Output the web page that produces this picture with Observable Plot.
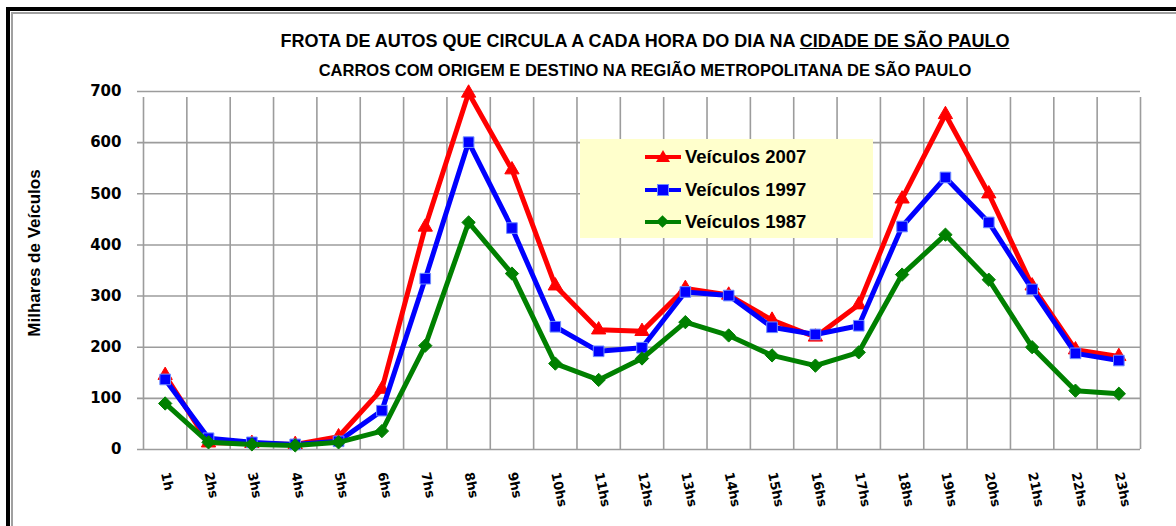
<!DOCTYPE html>
<html><head><meta charset="utf-8">
<script src="https://cdn.jsdelivr.net/npm/d3@7"></script>
<script src="https://cdn.jsdelivr.net/npm/@observablehq/plot@0.6"></script>
<style>
body{margin:0;background:#fff;}
#wrap{position:relative;width:1176px;height:526px;overflow:hidden;background:#fff;}
#frame{position:absolute;left:6px;top:7px;width:1200px;height:600px;border-top:4px solid #000;border-left:4px solid #000;}
#frame2{position:absolute;left:11px;top:12px;width:1200px;height:600px;border-top:2px solid #a0a0a0;border-left:2px solid #a0a0a0;}
.title{position:absolute;left:0;width:1290px;text-align:center;font-family:"Liberation Sans",Arial,sans-serif;font-weight:bold;color:#000;white-space:nowrap;}
#t1{top:32px;font-size:18px;line-height:18px;}
#t2{top:62px;font-size:16.5px;line-height:16.5px;}
#ylab{position:absolute;left:-115px;top:243px;width:300px;height:20px;line-height:20px;text-align:center;transform:rotate(-90deg);font-family:"Liberation Sans",Arial,sans-serif;font-weight:bold;font-size:17px;color:#000;}
#plot{position:absolute;left:0;top:80px;}
#legend{position:absolute;left:580px;top:139px;width:293px;height:99px;background:#FFFFCC;}
.row{position:absolute;left:0;width:293px;height:24px;}
.ln{position:absolute;left:65px;top:10px;width:36px;height:4px;}
.mk{position:absolute;}
.lt{position:absolute;left:105px;top:0;line-height:24px;font-family:"Liberation Sans",Arial,sans-serif;font-weight:bold;font-size:18.5px;color:#000;white-space:nowrap;}
</style></head>
<body>
<div id="wrap">
  <div id="frame"></div><div id="frame2"></div>
  <div class="title" id="t1">FROTA DE AUTOS QUE CIRCULA A CADA HORA DO DIA NA <span style="text-decoration:underline">CIDADE DE SÃO PAULO</span></div>
  <div class="title" id="t2">CARROS COM ORIGEM E DESTINO NA REGIÃO METROPOLITANA DE SÃO PAULO</div>
  <div id="ylab">Milhares de Veículos</div>
  <div id="plot"></div>
  <div id="legend"></div>
</div>
<script>
const hourLabels = ["1h","2hs","3hs","4hs","5hs","6hs","7hs","8hs","9hs","10hs","11hs","12hs","13hs","14hs","15hs","16hs","17hs","18hs","19hs","20hs","21hs","22hs","23hs"];
const v2007 = [145, 13, 12, 10, 25, 118, 435, 697, 547, 320, 234, 231, 315, 302, 253, 220, 283, 490, 655, 500, 320, 195, 182];
const v1997 = [137, 22, 14, 10, 16, 76, 334, 601, 433, 240, 192, 199, 308, 301, 239, 225, 242, 436, 532, 444, 313, 188, 174];
const v1987 = [90, 14, 10, 8, 14, 36, 203, 444, 344, 168, 136, 178, 249, 223, 184, 164, 190, 342, 420, 332, 200, 115, 109];
const yTicks = [0, 100, 200, 300, 400, 500, 600, 700];
const seriesNames = ["Veículos 2007", "Veículos 1997", "Veículos 1987"];

const hourIdx = hourLabels.map((_, i) => i + 1);
const boundaries = [...hourIdx.map(h => h - 0.5), hourIdx.length + 0.5];
const toRows = vals => vals.map((v, i) => ({h: hourIdx[i], v}));
const series = [
  {name: seriesNames[0], data: toRows(v2007), color: "#FF0000", symbol: "triangle", r: 5.3, outline: "#FF0000"},
  {name: seriesNames[1], data: toRows(v1997), color: "#0000FF", symbol: "square", r: 6, outline: "#6f8cff"},
  {name: seriesNames[2], data: toRows(v1987), color: "#008000", symbol: "diamond2", r: 6, outline: "#008000"}
];

const marks = [
  Plot.ruleY(yTicks, {stroke: "#9c9c9c", strokeWidth: 1.6, insetLeft: -6}),
  Plot.ruleX(boundaries, {y1: 0, y2: 700, stroke: "#9c9c9c", strokeWidth: 1.6, insetBottom: -6}),
  Plot.axisY({ticks: yTicks, label: null, tickSize: 0, tickPadding: 22, fontSize: 15, fontWeight: "bold", fontFamily: "DejaVu Sans"}),
  Plot.axisX({ticks: hourIdx, label: null, tickFormat: h => hourLabels[h - 1], tickSize: 0, tickPadding: 23, tickRotate: 78, fontSize: 13, fontWeight: "bold", fontFamily: "DejaVu Sans"})
];
for (const s of series) {
  marks.push(Plot.line(s.data, {x: "h", y: "v", stroke: s.color, strokeWidth: 5, strokeLinejoin: "round"}));
  marks.push(Plot.dot(s.data, {x: "h", y: "v", symbol: s.symbol, r: s.r, fill: s.color, stroke: s.outline, strokeWidth: 1}));
}

const chart = Plot.plot({
  width: 1176, height: 446,
  marginTop: 11, marginBottom: 77, marginLeft: 143, marginRight: 36,
  style: {background: "transparent", color: "#000", overflow: "visible"},
  x: {domain: [0.5, hourIdx.length + 0.5], axis: null},
  y: {domain: [0, 700], axis: null},
  marks
});
document.getElementById("plot").appendChild(chart);

// legend
const legend = document.getElementById("legend");
series.forEach((s, i) => {
  const row = document.createElement("div");
  row.className = "row";
  row.style.top = (6 + i * 32.5) + "px";
  const ln = document.createElement("span");
  ln.className = "ln"; ln.style.background = s.color;
  row.appendChild(ln);
  const mk = document.createElement("span");
  mk.className = "mk";
  if (s.symbol === "triangle") {
    Object.assign(mk.style, {left: "76px", top: "5px", width: "14px", height: "12px", background: s.color, clipPath: "polygon(50% 0, 100% 100%, 0 100%)"});
  } else if (s.symbol === "square") {
    Object.assign(mk.style, {left: "77px", top: "6px", width: "10px", height: "10px", background: s.color, border: "1px solid " + s.outline});
  } else {
    Object.assign(mk.style, {left: "78px", top: "7px", width: "9px", height: "9px", background: s.color, transform: "rotate(45deg)"});
  }
  row.appendChild(mk);
  const lt = document.createElement("span");
  lt.className = "lt"; lt.textContent = s.name;
  row.appendChild(lt);
  legend.appendChild(row);
});
</script>
</body></html>
